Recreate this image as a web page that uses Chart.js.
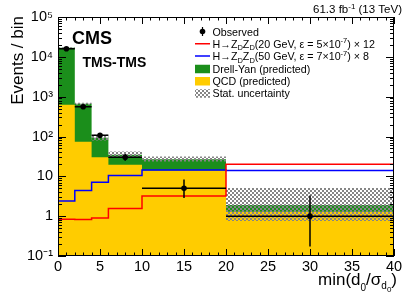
<!DOCTYPE html>
<html><head><meta charset="utf-8">
<script src="https://cdn.jsdelivr.net/npm/chart.js@4"></script>
<style>html,body{margin:0;padding:0;background:#fff}canvas{display:block}</style>
</head><body>
<canvas id="c" width="411" height="295"></canvas>
<script>
// ---- data ----
const binEdges   = [0, 2, 4, 6, 10, 20, 40];
const qcdPred    = [630, 74, 30, 19.5, 14, 1.3];
const dyPred     = [16200, 590, 63, 15.5, 13, 0.6];
const statUp     = [17300, 700, 111, 42, 31.5, 5.1];
const statDown   = [16400, 620, 79, 30, 23.5, 0.76];
const sig20      = [0.84, 0.82, 0.9, 1.55, 3.2, 20];
const sig50      = [2.4, 4.4, 7.1, 10.5, 14.5, 14];
const obsX       = [1, 3, 5, 8, 15, 30];
const obsY       = [16000, 560, 107, 30, 5, 1];
const obsErrLo   = [15870, 537, 97, 24.6, 2.84, 0.173];
const obsErrHi   = [16130, 584, 118, 36.4, 8.38, 3.3];
const xTicks     = [0, 5, 10, 15, 20, 25, 30, 35, 40];
const yTicks     = [0.1, 1, 10, 100, 1000, 10000, 100000];
const yTickLabels= ['10⁻¹', '1', '10', '10²', '10³', '10⁴', '10⁵'];

const FONT = '"Liberation Sans", Arial, Helvetica, sans-serif';
Chart.defaults.font.family = FONT;

const totalPred = qcdPred.map((v, i) => v + dyPred[i]);
function steps(vals) {
  return binEdges.map((e, i) => ({ x: e, y: vals[Math.min(i, vals.length - 1)] }));
}
function makeHatch() {
  const c = document.createElement('canvas'); c.width = 4; c.height = 4;
  const g = c.getContext('2d');
  g.fillStyle = '#858585';
  g.fillRect(0, 0, 2, 2); g.fillRect(2, 2, 2, 2);
  return g.createPattern(c, 'repeat');
}
const hatch = makeHatch();
const GREEN = '#1b8e1b', YELLOW = '#ffcc00';

function rich(ctx, segs, x, y, align) {
  let w = 0;
  segs.forEach(s => { ctx.font = (s[3] ? 'bold ' : '') + s[1] + 'px ' + FONT; w += ctx.measureText(s[0]).width; });
  let cx = align === 'right' ? x - w : x;
  ctx.textAlign = 'left'; ctx.textBaseline = 'alphabetic';
  segs.forEach(s => {
    ctx.font = (s[3] ? 'bold ' : '') + s[1] + 'px ' + FONT;
    ctx.fillText(s[0], cx, y + s[2]);
    cx += ctx.measureText(s[0]).width;
  });
}

const framePlugin = {
  id: 'frameTicks',
  afterDatasetsDraw(chart) {
    const { ctx, chartArea: a, scales: { x, y } } = chart;
    ctx.save();
    // observed error bars
    ctx.strokeStyle = '#000'; ctx.lineWidth = 1.5;
    ctx.beginPath();
    obsX.forEach((xv, i) => {
      const px = x.getPixelForValue(xv), py = y.getPixelForValue(obsY[i]);
      ctx.moveTo(x.getPixelForValue(binEdges[i]), py);
      ctx.lineTo(x.getPixelForValue(binEdges[i + 1]), py);
      ctx.moveTo(px, y.getPixelForValue(obsErrLo[i]));
      ctx.lineTo(px, y.getPixelForValue(obsErrHi[i]));
    });
    ctx.stroke();
    // ticks
    ctx.lineWidth = 1;
    ctx.beginPath();
    for (let v = 0; v <= 40; v += 1) {
      const px = Math.round(x.getPixelForValue(v)) + 0.5;
      const L = v % 5 === 0 ? 7 : 3.5;
      ctx.moveTo(px, a.bottom); ctx.lineTo(px, a.bottom - L);
      ctx.moveTo(px, a.top); ctx.lineTo(px, a.top + L);
    }
    for (let d = -1; d <= 4; d++) {
      for (let m = 1; m <= 9; m++) {
        const v = m * Math.pow(10, d);
        const py = Math.round(y.getPixelForValue(v)) + 0.5;
        const L = m === 1 ? 8 : 4;
        ctx.moveTo(a.left, py); ctx.lineTo(a.left + L, py);
        ctx.moveTo(a.right, py); ctx.lineTo(a.right - L, py);
      }
    }
    ctx.stroke();
    ctx.strokeRect(Math.round(a.left) + 0.5, Math.round(a.top) + 0.5,
                   Math.round(a.right - a.left) - 1, Math.round(a.bottom - a.top) - 1);
    ctx.restore();
  },
  afterDraw(chart) {
    const ctx = chart.ctx;
    ctx.save();
    ctx.fillStyle = '#000';
    // y title
    ctx.save();
    ctx.translate(23, 16); ctx.rotate(-Math.PI / 2);
    ctx.font = '17px ' + FONT; ctx.textAlign = 'right'; ctx.textBaseline = 'alphabetic';
    ctx.fillText('Events / bin', 0, 0);
    ctx.restore();
    // x title
    rich(ctx, [['min(d', 17, 0], ['0', 10, 6], ['/σ', 17, 0], ['d', 10, 3.5], ['0', 8, 7], [')', 17, 0]], 397, 285, 'right');
    // lumi
    rich(ctx, [['61.3 fb', 11.5, 0], ['-1', 8, -4.5], [' (13 TeV)', 11.5, 0]], 402, 13, 'right');
    // CMS
    rich(ctx, [['CMS', 18, 0, true]], 72, 43.5, 'left');
    rich(ctx, [['TMS-TMS', 14, 0, true]], 82.5, 66.5, 'left');
    // legend
    const lx0 = 195, lx1 = 210, tx = 212.5;
    const rowY = i => 31.5 + 12.25 * i;
    const fs = 10.7;
    // observed
    let cy = rowY(0);
    ctx.strokeStyle = '#000'; ctx.lineWidth = 1.2;
    ctx.beginPath(); ctx.moveTo(202.5, cy - 4.5); ctx.lineTo(202.5, cy + 4.5); ctx.stroke();
    ctx.beginPath(); ctx.arc(202.5, cy, 2.8, 0, Math.PI * 2); ctx.fill();
    rich(ctx, [['Observed', fs, 0]], tx, cy + 4, 'left');
    // signals
    [['#ff0000', '20 GeV, ε = 5×10', '-7', ') × 12'], ['#0000ff', '50 GeV, ε = 7×10', '-7', ') × 8']].forEach((s, k) => {
      const yy = rowY(1 + k);
      ctx.strokeStyle = s[0]; ctx.lineWidth = 1.5;
      ctx.beginPath(); ctx.moveTo(lx0, yy); ctx.lineTo(lx1, yy); ctx.stroke();
      ctx.fillStyle = '#000';
      rich(ctx, [['H→Z', fs, 0], ['D', 7.5, 2.5], ['Z', fs, 0], ['D', 7.5, 2.5], ['(' + s[1], fs, 0], [s[2], 7.5, -4.5], [s[3], fs, 0]], tx, yy + 4, 'left');
    });
    // boxes
    [[GREEN, 'Drell-Yan (predicted)'], [YELLOW, 'QCD (predicted)'], [hatch, 'Stat. uncertainty']].forEach((b, k) => {
      const yy = rowY(3 + k) + 0.5;
      ctx.fillStyle = b[0];
      ctx.fillRect(lx0, yy - 4, lx1 - lx0, 8.5);
      ctx.fillStyle = '#000';
      rich(ctx, [[b[1], fs, 0]], tx, yy + 4, 'left');
    });
    ctx.restore();
  }
};

const lineBase = { stepped: 'before', pointRadius: 0, borderColor: 'rgba(0,0,0,0)', borderWidth: 0 };

new Chart(document.getElementById('c').getContext('2d'), {
  type: 'line',
  data: {
    datasets: [
      { label: 'Observed', type: 'scatter', data: obsX.map((xv, i) => ({ x: xv, y: obsY[i] })),
        pointRadius: 2.8, pointBackgroundColor: '#000', pointBorderWidth: 0, showLine: false },
      Object.assign({}, lineBase, { label: 'H→ZDZD 20 GeV', data: steps(sig20), borderColor: '#ff0000', borderWidth: 1.5, fill: false }),
      Object.assign({}, lineBase, { label: 'H→ZDZD 50 GeV', data: steps(sig50), borderColor: '#0000ff', borderWidth: 1.5, fill: false }),
      Object.assign({}, lineBase, { label: 'Stat. uncertainty', data: steps(statUp), fill: '+1', backgroundColor: hatch }),
      Object.assign({}, lineBase, { label: 'stat low', data: steps(statDown), fill: false }),
      Object.assign({}, lineBase, { label: 'QCD (predicted)', data: steps(qcdPred), fill: 'start', backgroundColor: YELLOW }),
      Object.assign({}, lineBase, { label: 'Drell-Yan (predicted)', data: steps(totalPred), fill: 'start', backgroundColor: GREEN })
    ]
  },
  options: {
    animation: false, responsive: false, devicePixelRatio: 1,
    layout: { padding: { top: 17, right: 17, left: 0, bottom: 0 } },
    plugins: { legend: { display: false }, tooltip: { enabled: false } },
    scales: {
      x: {
        type: 'linear', min: 0, max: 40,
        grid: { display: false, drawTicks: false }, border: { display: false },
        afterBuildTicks: s => { s.ticks = xTicks.map(v => ({ value: v })); },
        ticks: { color: '#000', font: { size: 14.5 }, padding: 2, maxRotation: 0, autoSkip: false },
        afterFit: s => { s.height = 39; }
      },
      y: {
        type: 'logarithmic', min: 0.1, max: 100000,
        grid: { display: false, drawTicks: false }, border: { display: false },
        afterBuildTicks: s => { s.ticks = yTicks.map(v => ({ value: v })); },
        ticks: { color: '#000', font: { size: 14.5 }, padding: 5, autoSkip: false,
                 callback: v => { const i = yTicks.indexOf(v); return i >= 0 ? yTickLabels[i] : ''; } },
        afterFit: s => { s.width = 58; }
      }
    }
  },
  plugins: [framePlugin]
});
</script>
</body></html>
